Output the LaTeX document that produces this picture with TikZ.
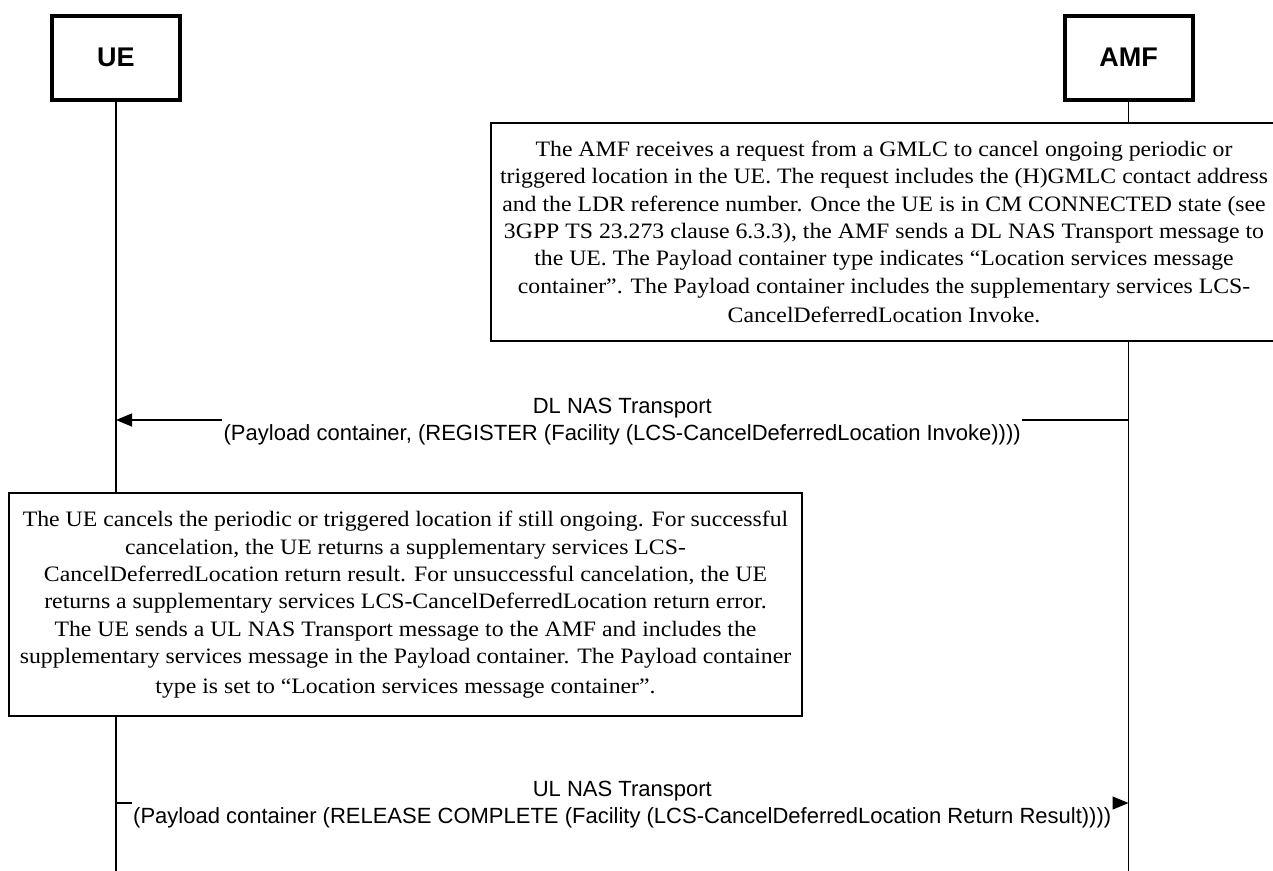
\documentclass[tikz,border=0pt]{standalone}
\usepackage{fontspec}
\setmainfont{Liberation Serif}
\setsansfont{Liberation Sans}
\newfontfamily\notefont[FakeStretch=1.08]{Liberation Serif}
\usetikzlibrary{arrows.meta}

\begin{document}
\begin{tikzpicture}[x=1pt,y=-1pt,
    lifebox/.style={draw,line width=4pt,fill=white,minimum width=128pt,minimum height=84pt,font=\sffamily\bfseries\fontsize{27}{32}\selectfont},
    notebox/.style={draw,line width=1.3pt,fill=white,align=center,inner sep=0pt,font=\notefont\fontsize{22}{27.4}\selectfont},
    msglabel/.style={align=center,inner xsep=1pt,inner ysep=0pt,font=\sffamily\fontsize{22}{27}\selectfont},
    msgline/.style={line width=1.3pt},
    msgarrow/.style={msgline,-{Triangle[length=16pt,width=13pt]}}]
  \useasboundingbox (0,0) rectangle (1273,870);
  % entities and lifelines
  \node[lifebox] (ue) at (116,57.5) {UE};
  \node[lifebox] (amf) at (1128.5,57.5) {AMF};
  \coordinate (end) at (0,872);
  \draw[msgline] (ue.south) -- (ue |- end);
  \draw[msgline] (amf.south) -- (amf |- end);
  % AMF side
  \node[notebox,minimum width=786pt,minimum height=218pt] (amfnote) at (884,232)
    {The AMF receives a request from a GMLC to cancel ongoing periodic or\\
     triggered location in the UE. The request includes the (H)GMLC contact address\\
     and the LDR reference number. Once the UE is in CM CONNECTED state (see\\
     3GPP TS 23.273 clause 6.3.3), the AMF sends a DL NAS Transport message to\\
     the UE. The Payload container type indicates “Location services message\\
     container”. The Payload container includes the supplementary services LCS-\\[2pt]
     CancelDeferredLocation Invoke.};
  \coordinate (dl) at (0,420);
  \path (amf |- dl) -- (ue |- dl) node[msglabel,midway,yshift=-2pt] (dllabel)
    {DL NAS Transport\\(Payload container, (REGISTER (Facility (LCS-CancelDeferredLocation Invoke))))};
  \draw[msgline] (amf |- dl) -- (dllabel.east |- dl);
  \draw[msgarrow] (dllabel.west |- dl) -- (ue |- dl);
  % UE side
  \node[notebox,minimum width=793pt,minimum height=223pt] (uenote) at (405.5,604.5)
    {The UE cancels the periodic or triggered location if still ongoing. For successful\\
     cancelation, the UE returns a supplementary services LCS-\\
     CancelDeferredLocation return result. For unsuccessful cancelation, the UE\\
     returns a supplementary services LCS-CancelDeferredLocation return error.\\
     The UE sends a UL NAS Transport message to the AMF and includes the\\
     supplementary services message in the Payload container. The Payload container\\[2pt]
     type is set to “Location services message container”.};
  \coordinate (ul) at (0,803);
  \path (ue |- ul) -- (amf |- ul) node[msglabel,midway,yshift=-2pt] (ullabel)
    {UL NAS Transport\\(Payload container (RELEASE COMPLETE (Facility (LCS-CancelDeferredLocation Return Result))))};
  \draw[msgline] (ue |- ul) -- (ullabel.west |- ul);
  \draw[msgarrow] (ullabel.east |- ul) -- (amf |- ul);
\end{tikzpicture}
\end{document}
